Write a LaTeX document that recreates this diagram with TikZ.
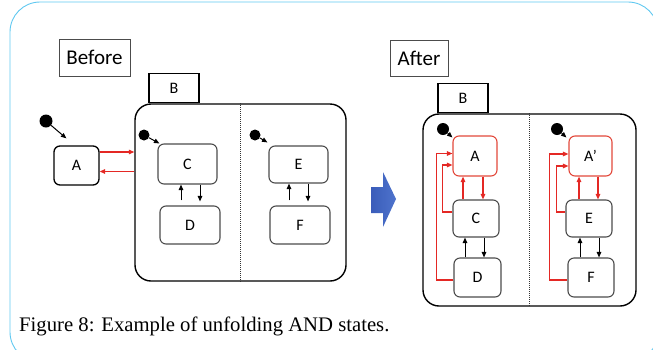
\documentclass[tikz,border=0pt]{standalone}
\usepackage{fontspec}
\setmainfont{Liberation Serif}
\newfontfamily\labelfont{Carlito}
\usetikzlibrary{arrows.meta}
\definecolor{framecyan}{RGB}{96,200,240}
\definecolor{redc}{RGB}{228,40,36}
\definecolor{redbox}{RGB}{226,72,58}
\definecolor{bluearrow}{RGB}{58,92,186}
\definecolor{bluearrowlight}{RGB}{78,116,204}
\begin{document}
\begin{tikzpicture}[x=1pt,y=-1pt,
  frame/.style={draw=framecyan, line width=0.9pt, rounded corners=30pt},
  caption/.style={draw=black!70, line width=0.8pt, font=\labelfont\fontsize{21}{24}\selectfont, inner sep=0pt},
  state/.style={draw=black, rounded corners=6pt, line width=1.3pt, inner sep=0pt, font=\labelfont\fontsize{16}{19}\selectfont},
  substate/.style={state, draw=black!70, line width=1.1pt},
  redstate/.style={state, draw=redbox, line width=1.1pt},
  tabbox/.style={draw=black, line width=1.4pt, inner sep=0pt, fill=white, font=\labelfont\fontsize{16}{19}\selectfont},
  superstate/.style={draw=black, line width=1.4pt, rounded corners=16pt, inner sep=0pt},
  divider/.style={draw=black!80, line width=0.8pt, dash pattern=on 1pt off 1pt},
  initdot/.style={circle, fill=black, inner sep=0pt, minimum size=12pt},
  arr/.style={-{Triangle[length=5.5pt,width=4.5pt]}, line width=1pt},
  redarr/.style={arr, color=redc, line width=1.2pt}]
\useasboundingbox (0,0) rectangle (653,349);

% outer frame
\draw[frame] (10,2) rectangle (658,362);

% ---------- before ----------
\node[caption, minimum width=71pt, minimum height=37pt] (lblBefore) at (94.5,57.5) {Before};

\node[superstate, minimum width=211pt, minimum height=177pt] (B1) at (240.5,192.5) {};
\node[tabbox, minimum width=50pt, minimum height=29pt, anchor=south] (B1tab) at (B1.north -| 174,0) {B};
\draw[divider] (B1.north) -- (B1.south);

\node[state, minimum width=45pt, minimum height=39pt] (A1) at (76.5,165.5) {A};
\node[initdot, minimum size=13pt] (i0) at (46,121) {};
\draw[arr] (i0) -- ([xshift=13pt,yshift=7pt]A1.north west);

\draw[redarr] ([yshift=13.5pt]A1.east) coordinate (p1) -- (B1.west |- p1);
\draw[redarr] ([yshift=-6pt]A1.east) coordinate (p2) (B1.west |- p2) -- (p2);

\node[substate, minimum width=59pt, minimum height=40pt] (C1) at (187.5,164) {C};
\node[substate, minimum width=60pt, minimum height=38pt] (D1) at (190,225) {D};
\node[initdot, minimum size=11pt] (i1) at (144,135) {};
\draw[arr] (i1) -- ([xshift=2pt]C1.north west);
\draw[arr, shorten <=5pt] ([xshift=-9pt]D1.north) coordinate (q1) -- (q1 |- C1.south);
\draw[arr, shorten >=4pt] ([xshift=12.5pt]C1.south) coordinate (q2) -- (q2 |- D1.north);

\node[substate, minimum width=59pt, minimum height=37pt] (E1) at (298.5,164.5) {E};
\node[substate, minimum width=60pt, minimum height=38pt] (F1) at (300,225) {F};
\node[initdot, minimum size=11pt] (i2) at (255,135) {};
\draw[arr] (i2) -- ([xshift=-1pt,yshift=3pt]E1.north west);
\draw[arr, shorten <=5pt] ([xshift=-11pt]F1.north) coordinate (q3) -- (q3 |- E1.south);
\draw[arr, shorten >=4pt] ([xshift=9.5pt]E1.south) coordinate (q4) -- (q4 |- F1.north);

% ---------- transformation arrow ----------
\shade[left color=bluearrow, right color=bluearrowlight]
  (371,187) -- (383,187) -- (383,172) -- (396,199) -- (383,227) -- (383,213) -- (371,213) -- cycle;

% ---------- after ----------
\node[caption, minimum width=58pt, minimum height=36pt] (lblAfter) at (419,58) {After};

\node[superstate, minimum width=213pt, minimum height=192pt] (B2) at (529.5,210) {};
\node[tabbox, minimum width=50pt, minimum height=29pt, anchor=south] (B2tab) at (B2.north -| 463,0) {B};
\draw[divider] (B2.north) -- (B2.south);

% left region
\node[redstate, minimum width=44pt, minimum height=40pt] (A2) at (475,156) {A};
\node[substate, minimum width=46pt, minimum height=37pt] (C2) at (476,218.5) {C};
\node[substate, minimum width=47pt, minimum height=39pt] (D2) at (477.5,277.5) {D};
\node[initdot] (i3) at (443,129) {};
\draw[arr] (i3) -- ([yshift=-2pt]A2.north west);
\draw[redarr] ([xshift=-13pt]C2.north) coordinate (r1) -- (r1 |- A2.south);
\draw[redarr] ([xshift=8pt]A2.south) coordinate (r2) -- (r2 |- C2.north);
\draw[arr] ([xshift=-12.5pt]D2.north) coordinate (r3) -- (r3 |- C2.south);
\draw[arr] ([xshift=8pt]C2.south) coordinate (r4) -- (r4 |- D2.north);
\draw[redarr] ([yshift=6.5pt]C2.west) -- ++(-10,0) |- ([yshift=-9pt]A2.west);
\draw[redarr] ([yshift=-2.5pt]D2.west) -- ++(-17,0) |- ([yshift=2.5pt]A2.west);

% right region
\node[redstate, minimum width=43pt, minimum height=40pt] (A3) at (590.5,156) {A’};
\node[substate, minimum width=46pt, minimum height=37pt] (E2) at (589,218.5) {E};
\node[substate, minimum width=46pt, minimum height=39pt] (F2) at (591,277.5) {F};
\node[initdot] (i4) at (557,129) {};
\draw[arr] (i4) -- ([xshift=-2pt,yshift=-2pt]A3.north west);
\draw[redarr] ([xshift=-10pt]E2.north) coordinate (s1) -- (s1 |- A3.south);
\draw[redarr] ([xshift=7.5pt]A3.south) coordinate (s2) -- (s2 |- E2.north);
\draw[arr] ([xshift=-11pt]F2.north) coordinate (s3) -- (s3 |- E2.south);
\draw[arr] ([xshift=10pt]E2.south) coordinate (s4) -- (s4 |- F2.north);
\draw[redarr] ([yshift=6.5pt]E2.west) -- ++(-9,0) |- ([yshift=-10pt]A3.west);
\draw[redarr] ([yshift=-2.5pt]F2.west) -- ++(-18,0) |- ([yshift=2pt]A3.west);

% ---------- figure caption ----------
\node[anchor=base west, inner sep=0pt, font=\fontsize{20.7}{24}\selectfont] (figcap) at (19,331)
  {Figure 8: Example of unfolding AND states.};
\end{tikzpicture}
\end{document}
